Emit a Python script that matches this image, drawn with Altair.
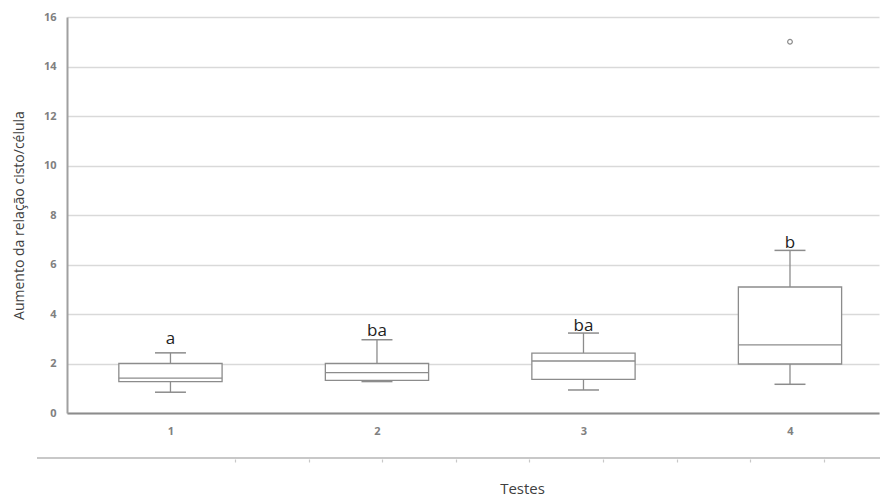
import altair as alt
import pandas as pd

# Data
testes = [1, 2, 3, 4]
lower_whisker = [0.84, 1.27, 0.93, 1.16]
q1 = [1.27, 1.32, 1.36, 1.98]
median = [1.41, 1.63, 2.10, 2.75]
q3 = [2.00, 2.00, 2.42, 5.09]
upper_whisker = [2.43, 2.96, 3.23, 6.57]
letters = ["a", "ba", "ba", "b"]
letter_y = [2.80, 3.12, 3.32, 6.68]
outlier_teste = [4]
outlier_value = [15.0]
secondary_ticks = [0, 1, 2, 3, 4, 5, 6, 7, 8]

df = pd.DataFrame({
    "teste": testes, "lo": lower_whisker, "q1": q1, "med": median,
    "q3": q3, "hi": upper_whisker, "letter": letters, "ly": letter_y,
})
df_out = pd.DataFrame({"teste": outlier_teste, "v": outlier_value})
df_ticks = pd.DataFrame({"t": secondary_ticks})

FONT = "Open Sans"
GRAY = "#8c8c8c"

xscale = alt.Scale(domain=[0.499, 4.431], nice=False, zero=False)
yscale = alt.Scale(domain=[0, 16], nice=False)

base = alt.Chart(df).transform_calculate(
    xl="datum.teste - 0.25", xr="datum.teste + 0.25",
    cl="datum.teste - 0.075", cr="datum.teste + 0.075",
)

x_axis = alt.Axis(values=testes, format="d", title=None, grid=False, ticks=False,
                  labelFont=FONT, labelFontSize=11, labelFontWeight="bold",
                  labelColor="#808080", labelPadding=12,
                  domainColor="#8c8c8c", domainWidth=2)
y_axis = alt.Axis(values=[0, 2, 4, 6, 8, 10, 12, 14, 16], title="Aumento da relação cisto/célula",
                  titleFont=FONT, titleFontSize=14, titleFontWeight="normal",
                  titleColor="#404040", titlePadding=17,
                  grid=True, gridColor="#d9d9d9", gridWidth=1.5,
                  ticks=False, labelFont=FONT, labelFontSize=11, labelFontWeight="bold",
                  labelColor="#808080", labelPadding=11,
                  domainColor="#a0a0a0", domainWidth=2)

whisker = base.mark_rule(color=GRAY, strokeWidth=1.3).encode(
    x=alt.X("teste:Q", scale=xscale, axis=x_axis),
    y=alt.Y("lo:Q", scale=yscale, axis=y_axis),
    y2="hi:Q",
)
caps_hi = base.mark_rule(color=GRAY, strokeWidth=1.5).encode(
    x=alt.X("cl:Q", scale=xscale), x2="cr:Q", y=alt.Y("hi:Q", scale=yscale))
caps_lo = base.mark_rule(color=GRAY, strokeWidth=1.5).encode(
    x=alt.X("cl:Q", scale=xscale), x2="cr:Q", y=alt.Y("lo:Q", scale=yscale))
box = base.mark_rect(fill="white", stroke=GRAY, strokeWidth=1.3).encode(
    x=alt.X("xl:Q", scale=xscale), x2="xr:Q",
    y=alt.Y("q1:Q", scale=yscale), y2="q3:Q")
med = base.mark_rule(color=GRAY, strokeWidth=1.3).encode(
    x=alt.X("xl:Q", scale=xscale), x2="xr:Q", y=alt.Y("med:Q", scale=yscale))
txt = base.mark_text(font=FONT, fontSize=17, color="#222222", baseline="alphabetic").encode(
    x=alt.X("teste:Q", scale=xscale), y=alt.Y("ly:Q", scale=yscale), text="letter:N")
outl = alt.Chart(df_out).mark_point(shape="circle", size=22, color=GRAY, fill="white",
                                    filled=False, strokeWidth=1.2, opacity=1).encode(
    x=alt.X("teste:Q", scale=xscale), y=alt.Y("v:Q", scale=yscale))

# Secondary (decorative) category axis line below
sec_line = alt.Chart(df_ticks).mark_rule(color="#c8c8c8", strokeWidth=1.2).encode(
    x=alt.value(-30), x2=alt.value(813), y=alt.value(441))
sec_axis = alt.Chart(df_ticks).mark_tick(opacity=0).encode(
    x=alt.X("t:Q", scale=alt.Scale(domain=[-2.2826, 8.75], nice=False, zero=False),
            axis=alt.Axis(orient="bottom", offset=46, values=secondary_ticks, labels=False,
                          domain=False, grid=False, ticks=True, tickColor="#c8c8c8",
                          tickSize=3, tickWidth=1.2, title="Testes",
                          titleFont=FONT, titleFontSize=15, titleFontWeight="normal",
                          titleColor="#404040", titleX=455, titleY=34,
                          titleBaseline="alphabetic")),
    y=alt.value(0),
)

main = alt.layer(whisker, box, med, caps_hi, caps_lo, txt, outl)
chart = alt.layer(main, sec_line, sec_axis).resolve_scale(x="independent").properties(
    width=812, height=396,
    autosize=alt.AutoSizeParams(type="none"),
    padding={"left": 59, "top": 9, "right": 1, "bottom": 84},
).configure_view(stroke=None)

chart.save("out.html", embed_options={"renderer": "svg", "actions": False})
